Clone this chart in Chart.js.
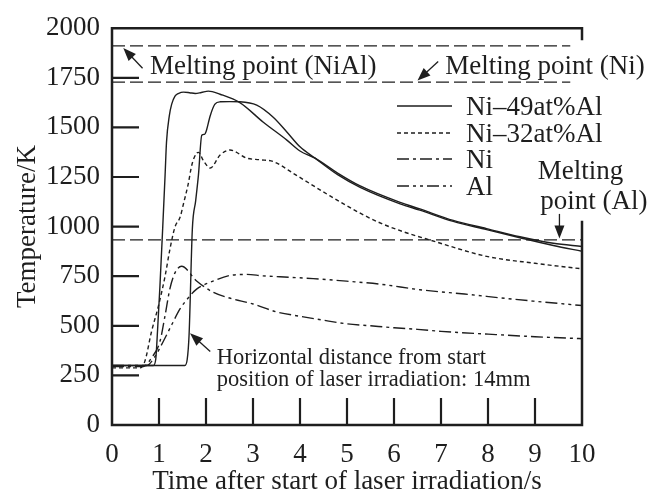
<!DOCTYPE html>
<html>
<head>
<meta charset="utf-8">
<script src="https://cdn.jsdelivr.net/npm/chart.js@4"></script>
<style>
  html, body { margin: 0; background: #fff; }
</style>
</head>
<body>
<canvas id="tempChart" width="664" height="495"></canvas>
<script>
// Temperature histories after laser irradiation
const ni49aTime = [0, 0.88, 0.93, 0.97, 1.02, 1.08, 1.13, 1.16, 1.22, 1.27, 1.34, 1.42, 1.52, 1.65, 1.77, 1.9, 2.05, 2.3, 2.72, 3.22, 3.72, 4.0, 4.32, 4.8, 5.28, 6.13, 6.55, 7.26, 7.97, 8.68, 9.39, 10]
const ni49aTemp = [300, 300, 330, 480, 700, 1000, 1262, 1427, 1559, 1617, 1658, 1672, 1678, 1675, 1671, 1676, 1683, 1667, 1625, 1526, 1436, 1381, 1345, 1270, 1205, 1122, 1089, 1031, 990, 949, 916, 900]

const ni49bTime = [0, 1.55, 1.6, 1.64, 1.71, 1.78, 1.84, 1.91, 1.97, 2.0, 2.09, 2.19, 2.3, 2.5, 2.72, 3.08, 3.43, 3.72, 4.0, 4.32, 4.8, 5.28, 6.13, 6.55, 7.26, 7.97, 8.68, 9.39, 10]
const ni49bTemp = [300, 300, 330, 455, 990, 1130, 1262, 1460, 1465, 1478, 1559, 1617, 1629, 1630, 1629, 1612, 1551, 1477, 1402, 1345, 1262, 1198, 1115, 1083, 1026, 985, 944, 905, 876]

const ni32Time = [0, 0.6, 0.7, 0.84, 0.99, 1.13, 1.23, 1.34, 1.45, 1.52, 1.62, 1.7, 1.8, 1.84, 1.95, 2.09, 2.3, 2.51, 2.87, 3.15, 3.43, 3.9, 4.6, 5.3, 5.74, 6.2, 6.77, 7.97, 9.0, 10]
const ni32Temp = [288, 288, 322, 470, 602, 751, 883, 998, 1048, 1114, 1213, 1312, 1370, 1374, 1330, 1295, 1361, 1386, 1345, 1337, 1328, 1262, 1160, 1065, 1015, 974, 932, 850, 815, 787]

const niTime = [0, 0.67, 0.84, 1.02, 1.13, 1.23, 1.34, 1.48, 1.8, 2.16, 2.5, 3.0, 3.5, 4.0, 4.5, 5.0, 5.5, 6.0, 6.5, 7.0, 8.0, 9.0, 10]
const niTemp = [295, 295, 338, 421, 553, 685, 767, 800, 726, 668, 640, 610, 570, 548, 528, 510, 500, 490, 482, 472, 458, 445, 435]

const alTime = [0, 0.74, 0.9, 1.09, 1.27, 1.45, 1.62, 1.8, 2.16, 2.51, 2.87, 3.2, 3.57, 4.28, 4.99, 5.7, 6.55, 7.5, 8.5, 10]
const alTemp = [300, 300, 340, 421, 505, 586, 640, 685, 726, 754, 759, 752, 747, 738, 725, 710, 682, 660, 635, 602]

// Melting points (K) and where their dashed lines stop (s)
const meltNames = ['NiAl', 'Ni', 'Al']
const meltTemps = [1911, 1728, 933]
const meltEnds = [9.75, 9.75, 10]

const legendNames = ['Ni\u201349at%Al', 'Ni\u201332at%Al', 'Ni', 'Al']

const xTicks = [0, 1, 2, 3, 4, 5, 6, 7, 8, 9, 10]
const yTicks = [0, 250, 500, 750, 1000, 1250, 1500, 1750, 2000]

const ink = '#1e1e1e'
const serif = '"Liberation Serif", "Times New Roman", serif'

const dashNi32 = [4, 3]
const dashNi = [12, 4, 3, 4]
const dashAl = [12, 4, 3, 4, 3, 4]

const toPoints = (xs, ys) => xs.map((x, i) => ({x: x, y: ys[i]}))

const curve = (label, xs, ys, dash) => ({
    label: label,
    data: toPoints(xs, ys),
    borderColor: ink,
    borderWidth: 1.4,
    borderDash: dash,
    pointRadius: 0,
    fill: false,
    cubicInterpolationMode: 'monotone'
})

const datasets = [
    curve('Ni\u201349at%Al', ni49aTime, ni49aTemp, []),
    curve('Ni\u201349at%Al (2)', ni49bTime, ni49bTemp, []),
    curve('Ni\u201332at%Al', ni32Time, ni32Temp, dashNi32),
    curve('Ni', niTime, niTemp, dashNi),
    curve('Al', alTime, alTemp, dashAl)
]

meltNames.forEach((name, i) => {
    datasets.push({
        label: 'Melting point (' + name + ')',
        data: [{x: 0, y: meltTemps[i]}, {x: meltEnds[i], y: meltTemps[i]}],
        borderColor: ink,
        borderWidth: 1.3,
        borderDash: [13, 5],
        pointRadius: 0,
        tension: 0
    })
})

const arrow = (ctx, x1, y1, x2, y2) => {
    const a = Math.atan2(y2 - y1, x2 - x1)
    const len = 13, half = 5
    ctx.beginPath()
    ctx.moveTo(x1, y1)
    ctx.lineTo(x2 - Math.cos(a) * len * 0.8, y2 - Math.sin(a) * len * 0.8)
    ctx.stroke()
    ctx.beginPath()
    ctx.moveTo(x2, y2)
    ctx.lineTo(x2 - Math.cos(a) * len - Math.sin(a) * half, y2 - Math.sin(a) * len + Math.cos(a) * half)
    ctx.lineTo(x2 - Math.cos(a) * len + Math.sin(a) * half, y2 - Math.sin(a) * len - Math.cos(a) * half)
    ctx.closePath()
    ctx.fill()
}

// frame, inward ticks, notes and legend
const decorations = {
    id: 'decorations',
    afterDraw(chart) {
        const ctx = chart.ctx
        const xs = chart.scales.x, ys = chart.scales.y
        const {left, right, top, bottom} = chart.chartArea
        const px = v => xs.getPixelForValue(v)
        const py = v => ys.getPixelForValue(v)
        ctx.save()
        ctx.strokeStyle = ink
        ctx.fillStyle = ink
        ctx.setLineDash([])

        ctx.lineWidth = 2.5
        ctx.beginPath()
        ctx.moveTo(right, top + 12)
        ctx.lineTo(right, top)
        ctx.lineTo(left, top)
        ctx.lineTo(left, bottom)
        ctx.lineTo(right, bottom)
        ctx.lineTo(right, py(1030))
        ctx.stroke()

        ctx.lineWidth = 2.2
        ctx.beginPath()
        yTicks.slice(1, -1).forEach(v => {
            ctx.moveTo(left, py(v))
            ctx.lineTo(left + 27, py(v))
        })
        xTicks.slice(1, -1).forEach(v => {
            ctx.moveTo(px(v), bottom)
            ctx.lineTo(px(v), bottom - 27)
        })
        ctx.stroke()

        ctx.lineWidth = 1.3
        arrow(ctx, px(0.65), py(1798), px(0.24), py(1900))
        arrow(ctx, px(6.94), py(1832), px(6.5), py(1736))
        arrow(ctx, px(9.52), py(1064), px(9.52), py(940))
        arrow(ctx, px(2.09), py(371), px(1.66), py(462))

        ctx.textBaseline = 'middle'
        ctx.textAlign = 'left'
        ctx.font = '27px ' + serif
        ctx.fillText('Melting point (NiAl)', px(0.81), py(1807))
        ctx.fillText('Melting point (Ni)', px(7.09), py(1807))
        ctx.fillText('Melting', px(9.06), py(1277))
        ctx.fillText('point (Al)', px(9.11), py(1124))

        ctx.font = '22.5px ' + serif
        ctx.fillText('Horizontal distance from start', px(2.23), py(338))
        ctx.fillText('position of laser irradiation: 14mm', px(2.23), py(228))

        const dashes = [[], dashNi32, dashNi, dashAl]
        const rows = [106, 133, 159, 186]
        ctx.font = '27px ' + serif
        legendNames.forEach((name, i) => {
            ctx.lineWidth = 1.4
            ctx.setLineDash(dashes[i])
            ctx.beginPath()
            ctx.moveTo(397, rows[i])
            ctx.lineTo(452, rows[i])
            ctx.stroke()
            ctx.setLineDash([])
            ctx.fillText(name, 466, rows[i] + 2)
        })
        ctx.restore()
    }
}

const ctx = document.getElementById('tempChart')
const tempChart = new Chart(ctx, {
    type: 'line',
    data: {datasets: datasets},
    options: {
        responsive: false,
        animation: false,
        layout: {padding: {top: 21, right: 82, left: 0, bottom: 0}},
        plugins: {legend: {display: false}, tooltip: {enabled: false}},
        scales: {
            x: {
                type: 'linear',
                min: 0,
                max: 10,
                afterFit: s => { s.height = 70 },
                afterBuildTicks: s => { s.ticks = xTicks.map(v => ({value: v})) },
                grid: {display: false, drawTicks: false},
                border: {display: false},
                ticks: {color: ink, padding: 14, font: {family: serif, size: 27}, maxRotation: 0,
                        callback: v => String(v)},
                title: {display: true, text: 'Time after start of laser irradiation/s', color: ink,
                        font: {family: serif, size: 27, lineHeight: 1}, padding: {top: 0, bottom: 0}}
            },
            y: {
                min: 0,
                max: 2000,
                afterFit: s => { s.width = 112 },
                afterBuildTicks: s => { s.ticks = yTicks.map(v => ({value: v})) },
                grid: {display: false, drawTicks: false},
                border: {display: false},
                ticks: {color: ink, padding: 12, font: {family: serif, size: 27},
                        callback: v => String(v)},
                title: {display: true, text: 'Temperature/K', color: ink,
                        font: {family: serif, size: 27, lineHeight: 1}, padding: {top: 14, bottom: 0}}
            }
        }
    },
    plugins: [decorations]
})
</script>
</body>
</html>
